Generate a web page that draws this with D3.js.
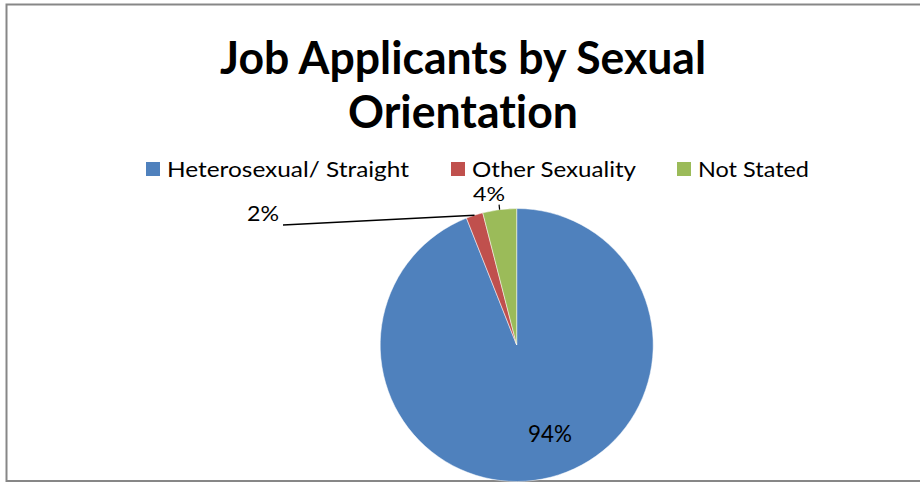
<!DOCTYPE html>
<html>
<head>
<meta charset="utf-8">
<script src="https://cdn.jsdelivr.net/npm/d3@7/dist/d3.min.js"></script>
<style>
  body { margin: 0; background: #fff; }
  svg { display: block; }
  text { font-family: Lato, "Open Sans", "Liberation Sans", sans-serif; fill: #000; font-variant-ligatures: none; }
</style>
</head>
<body>
<svg width="920" height="482"></svg>
<script>
// data
const categories = ["Heterosexual/ Straight", "Other Sexuality", "Not Stated"];
const values = [94, 2, 4];
const colors = ["#4F81BD", "#C0504D", "#9BBB59"];
const titleLines = ["Job Applicants by Sexual", "Orientation"];

const svg = d3.select("svg");
const cx = 516.7, cy = 345, R = 136.5;

// chart border
svg.append("rect")
    .attr("x", 6.5).attr("y", 4.5)
    .attr("width", 1000).attr("height", 476.5)
    .attr("fill", "none")
    .attr("stroke", "#878787")
    .attr("stroke-width", 2);

// title
const titleY = [74, 128];
const titleW = [486, 230];
titleLines.forEach((t, i) => {
    svg.append("text")
        .attr("x", 463).attr("y", titleY[i])
        .attr("text-anchor", "middle")
        .attr("font-size", 45)
        .attr("font-weight", "bold")
        .attr("textLength", titleW[i])
        .attr("lengthAdjust", "spacingAndGlyphs")
        .text(t);
});

// legend
const legX = [146, 451, 677];
const legW = [242, 164, 111];
const legend = svg.append("g");
categories.forEach((c, i) => {
    legend.append("rect")
        .attr("x", legX[i]).attr("y", 162)
        .attr("width", 14).attr("height", 14)
        .attr("fill", colors[i]);
    legend.append("text")
        .attr("x", legX[i] + 21).attr("y", 177)
        .attr("font-size", 22)
        .attr("textLength", legW[i])
        .attr("lengthAdjust", "spacingAndGlyphs")
        .text(c);
});

// pie, clockwise from 12 o'clock
const pie = d3.pie().sort(null).value(d => d);
const arcs = pie(values);
const arc = d3.arc().innerRadius(0).outerRadius(R);
const g = svg.append("g").attr("transform", `translate(${cx},${cy})`);

g.selectAll("path")
    .data(arcs)
    .join("path")
    .attr("d", arc)
    .attr("fill", (d, i) => colors[i])
    .attr("stroke", "#fff")
    .attr("stroke-width", 0.5);

// labels
const total = d3.sum(values);
const pct = v => Math.round(v / total * 100) + "%";
const edge = d => {
    const a = (d.startAngle + d.endAngle) / 2;
    return [R * Math.sin(a), -R * Math.cos(a)];
};

// 94% inside
g.append("text")
    .attr("x", 550 - cx).attr("y", 442 - cy)
    .attr("text-anchor", "middle")
    .attr("font-size", 23)
    .attr("textLength", 44)
    .attr("lengthAdjust", "spacingAndGlyphs")
    .text(pct(values[0]));

// 2% with leader line
const e1 = edge(arcs[1]);
g.append("path")
    .attr("d", d3.line()([e1, [283 - cx, 225 - cy]]))
    .attr("stroke", "#000").attr("stroke-width", 1.5).attr("fill", "none");
g.append("text")
    .attr("x", 279 - cx).attr("y", 221 - cy)
    .attr("text-anchor", "end")
    .attr("font-size", 21)
    .attr("textLength", 32)
    .attr("lengthAdjust", "spacingAndGlyphs")
    .text(pct(values[1]));

// 4% with short leader
const e2 = edge(arcs[2]);
g.append("path")
    .attr("d", d3.line()([e2, [e2[0] - 0.5, e2[1] - 5]]))
    .attr("stroke", "#000").attr("stroke-width", 1.2).attr("fill", "none");
g.append("text")
    .attr("x", 489 - cx).attr("y", 201 - cy)
    .attr("text-anchor", "middle")
    .attr("font-size", 20)
    .attr("textLength", 32)
    .attr("lengthAdjust", "spacingAndGlyphs")
    .text(pct(values[2]));
</script>
</body>
</html>
